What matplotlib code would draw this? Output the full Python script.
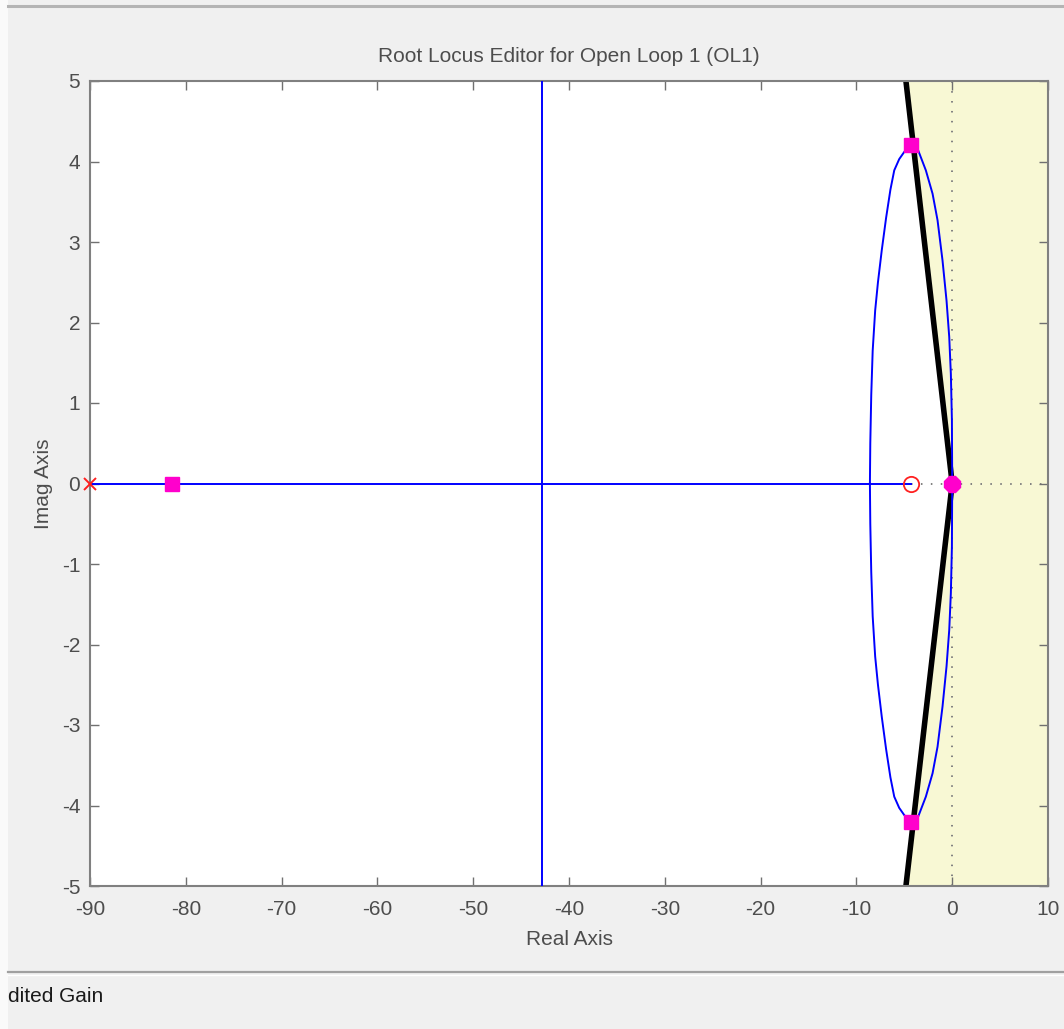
import matplotlib
matplotlib.use('Agg')
import matplotlib.pyplot as plt
from matplotlib.lines import Line2D
from matplotlib.patches import Rectangle
import numpy as np

plt.rcParams['font.family'] = ['Liberation Sans', 'DejaVu Sans']
plt.rcParams['axes.unicode_minus'] = False

# open-loop poles / zeros and closed-loop poles
ol_pole_x = [-90.0]
ol_pole_y = [0.0]
ol_zero_x = [-4.3]
ol_zero_y = [0.0]
cl_pole_x = [-81.4, -4.3, -4.3]
cl_pole_y = [0.0, 4.2, -4.2]
origin_x = [0.0]
origin_y = [0.0]

# locus branch (upper half, mirrored below)
left_x = [-4.3, -5.0, -5.53, -6.05, -6.45, -6.9, -7.35, -7.75, -8.04, -8.3, -8.45, -8.55, -8.59]
left_y = [4.2, 4.12, 4.03, 3.89, 3.65, 3.3, 2.9, 2.5, 2.15, 1.65, 1.1, 0.5, 0.0]
right_x = [-4.3, -3.62, -2.75, -2.05, -1.53, -1.01, -0.59, -0.31, -0.14, -0.03, 0.0]
right_y = [4.2, 4.16, 3.89, 3.60, 3.27, 2.77, 2.27, 1.82, 1.36, 0.78, 0.0]

# real axis segment and asymptote
real_seg_x = [-90.0, -4.3]
asym_x = -42.8

# damping constraint line end points
damp_x = [-4.83, 0.0, -4.83]
damp_y = [5.0, 0.0, -5.0]

xlim = (-90, 10)
ylim = (-5, 5)
xticks = np.arange(-90, 11, 10)
yticks = np.arange(-5, 6, 1)

fig = plt.figure(figsize=(10.64, 10.29), dpi=100)
fig.patch.set_facecolor('#f0f0f0')
W, H = 1064.0, 1029.0

# window decorations
fig.patches.append(Rectangle((0, 0), 8 / W, 1, transform=fig.transFigure,
                             facecolor='#fafafa', edgecolor='none', zorder=0))
fig.lines.append(Line2D([8 / W, 1], [1 - 6 / H, 1 - 6 / H], transform=fig.transFigure,
                        color='#b4b4b4', lw=2.2))
fig.lines.append(Line2D([8 / W, 1], [1 - 972 / H, 1 - 972 / H], transform=fig.transFigure,
                        color='#a0a0a0', lw=1.6))
fig.lines.append(Line2D([8 / W, 1], [1 - 974.5 / H, 1 - 974.5 / H], transform=fig.transFigure,
                        color='#ffffff', lw=1.0))
fig.text(8 / W, 1 - 997 / H, 'dited Gain', fontsize=15, color='#1a1a1a',
         ha='left', va='center')

ax = fig.add_axes([90 / W, 1 - 886 / H, (1048 - 90) / W, (886 - 81) / H])
ax.set_facecolor('white')
ax.set_xlim(*xlim)
ax.set_ylim(*ylim)

# shaded region outside the damping cone
ax.fill([damp_x[0], xlim[1], xlim[1], damp_x[2], damp_x[1]],
        [damp_y[0], ylim[1], ylim[0], damp_y[2], damp_y[1]],
        color='#f8f8d4', zorder=0, lw=0)

dots = (0, (0.8, 4.3))
ax.plot([0, 0], list(ylim), color='#808080', lw=1.4, ls=dots, zorder=1)
ax.plot([ol_zero_x[0], xlim[1]], [0, 0], color='#808080', lw=1.4, ls=dots, zorder=1)

ax.plot(damp_x, damp_y, color='black', lw=4.0, zorder=2, solid_joinstyle='miter')

blue = '#0000ff'
ax.plot(real_seg_x, [0, 0], color=blue, lw=1.4, zorder=3)
ax.plot([asym_x, asym_x], list(ylim), color=blue, lw=1.4, zorder=3)
for bx, by in [(left_x, left_y), (right_x, right_y)]:
    ax.plot(bx, by, color=blue, lw=1.4, zorder=3)
    ax.plot(bx, [-v for v in by], color=blue, lw=1.4, zorder=3)

ax.plot(ol_pole_x, ol_pole_y, 'x', color='#ff2020', ms=9, mew=1.4, zorder=5, clip_on=False)
ax.plot(ol_zero_x, ol_zero_y, 'o', mfc='none', mec='#ff2020', ms=11, mew=1.3, zorder=5)
ax.plot(cl_pole_x, cl_pole_y, 's', color='#ff00cc', ms=10, zorder=6)
ax.plot(origin_x, origin_y, '8', color='#ff00cc', ms=12, zorder=6)

ax.set_xticks(xticks)
ax.set_yticks(yticks)
ax.tick_params(direction='in', length=6.5, width=1.0, color='#707070',
               labelcolor='#4d4d4d', labelsize=15, top=True, right=True)
ax.tick_params(axis='x', pad=10)
ax.tick_params(axis='y', pad=7)
for s in ax.spines.values():
    s.set_color('#808080')
    s.set_linewidth(1.5)

ax.set_title('Root Locus Editor for Open Loop 1 (OL1)', fontsize=15,
             color='#4d4d4d', pad=14)
ax.set_xlabel('Real Axis', fontsize=15, color='#4d4d4d', labelpad=8)
ax.set_ylabel('Imag Axis', fontsize=15, color='#4d4d4d', labelpad=6)

fig.savefig('out.png', dpi=100, facecolor=fig.get_facecolor())
